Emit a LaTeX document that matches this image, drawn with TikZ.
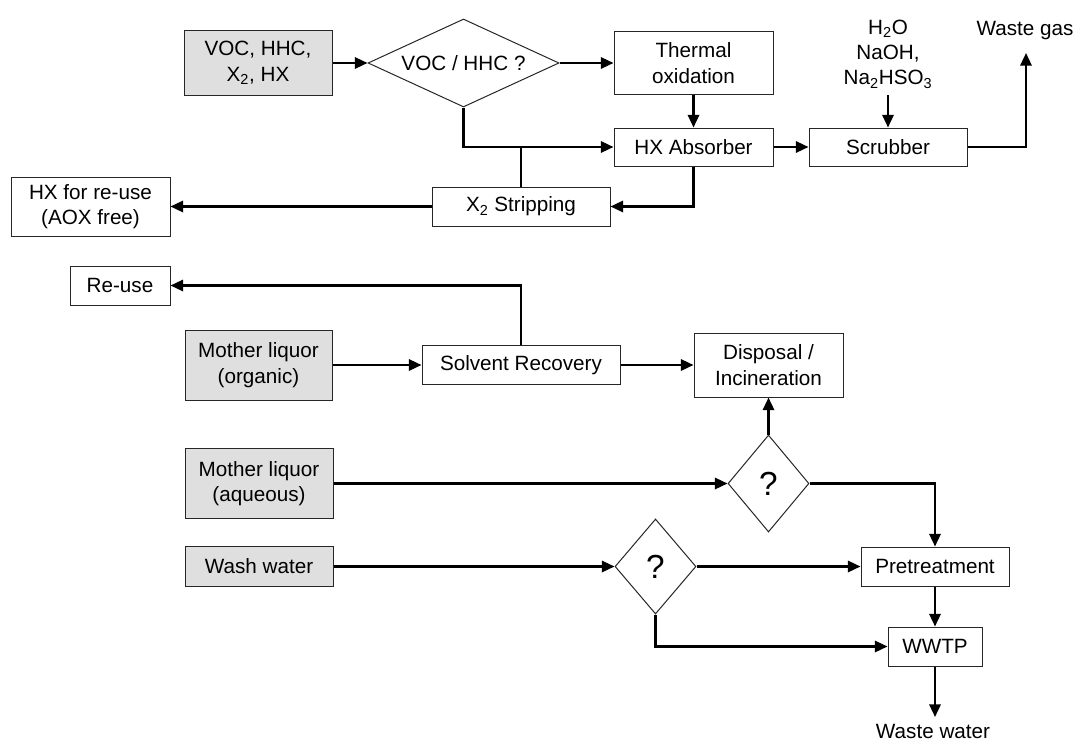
\documentclass[tikz,border=0pt]{standalone}
\usepackage{fontspec}
\setmainfont{Liberation Sans}
\usetikzlibrary{shapes.geometric,arrows.meta}
\begin{document}
\begin{tikzpicture}[x=0.75pt,y=-0.75pt,
  font=\fontsize{15.5}{19}\selectfont,
  sz/.style 2 args={minimum width=#1*0.75pt, minimum height=#2*0.75pt},
  box/.style={draw=black!85, line width=0.75pt, inner sep=0pt, align=center},
  src/.style={box, fill=gray!25},
  dec/.style={draw=black!85, line width=0.75pt, diamond, inner sep=0pt, align=center},
  qmark/.style={font=\fontsize{25}{28}\selectfont},
  conn/.style={line width=1.7pt, -{Triangle[length=9.5pt,width=8.5pt]}},
  plainline/.style={line width=1.7pt},
  lbl/.style={inner sep=0pt, align=center}]
\useasboundingbox (0,0) rectangle (1077,742);

% top section
\node[src, sz={148}{64}] (voc) at (258,63) {VOC, HHC,\\X\textsubscript{2}, HX};
\node[dec, sz={191}{88}, shape aspect=2.17] (d1) at (463.5,63) {VOC / HHC ?};
\node[box, sz={159}{62}] (therm) at (693.5,63) {Thermal\\oxidation};
\node[box, sz={159}{38}] (hxabs) at (693.5,147) {HX Absorber};
\node[box, sz={158}{38}] (scrub) at (888,147) {Scrubber};
\node[lbl] (chem) at (888,54) {H\textsubscript{2}O\\NaOH,\\Na\textsubscript{2}HSO\textsubscript{3}};
\node[lbl] (wgas) at (1025,31) {Waste gas};
\coordinate (wgtip) at (1026,53);
\node[box, sz={178}{39}] (strip) at (521,206.5) {X\textsubscript{2} Stripping};
\node[box, sz={159}{59}] (hxre) at (90.5,206.5) {HX for re-use\\(AOX free)};

% bottom section
\node[box, sz={100}{39}] (reuse) at (120,285.5) {Re-use};
\node[src, sz={147}{70}] (mlorg) at (258.5,365) {Mother liquor\\(organic)};
\node[box, sz={198}{39}] (solv) at (521,365) {Solvent Recovery};
\node[box, sz={149}{64}] (disp) at (768.5,365) {Disposal /\\Incineration};
\node[dec, qmark, sz={81}{97}, shape aspect=0.83] (q1) at (768.5,483.5) {?};
\node[src, sz={148}{70}] (mlaq) at (259,483.5) {Mother liquor\\(aqueous)};
\node[src, sz={148}{40}] (wash) at (259,566.5) {Wash water};
\node[dec, qmark, sz={81}{95}, shape aspect=0.85] (q2) at (655.5,566.5) {?};
\node[box, sz={148}{39}] (pre) at (935,566.5) {Pretreatment};
\node[box, sz={94}{39}] (wwtp) at (935,646.5) {WWTP};
\coordinate (wwtip) at (935,717);
\node[lbl] (wwater) at (933,731) {Waste water};

% connectors top
\draw[conn] (voc.east) -- (d1.west);
\draw[conn] (d1.east) -- (therm.west);
\draw[conn] (d1.south) |- (hxabs.west);
\draw[plainline] (strip.north) -- (strip.north |- hxabs.west);
\draw[conn] (therm.south) -- (hxabs.north);
\draw[conn] (hxabs.east) -- (scrub.west);
\draw[conn] ([yshift=-5pt]chem.south) -- (scrub.north);
\draw[conn] (scrub.east) -| (wgtip);
\draw[conn] (hxabs.south) |- (strip.east);
\draw[conn] (strip.west) -- (hxre.east);

% connectors bottom
\draw[conn] (mlorg.east) -- (solv.west);
\draw[conn] (solv.north) |- (reuse.east);
\draw[conn] (solv.east) -- (disp.west);
\draw[conn] (q1.north) -- (disp.south);
\draw[conn] (mlaq.east) -- (q1.west);
\draw[conn] (q1.east) -| (pre.north);
\draw[conn] (wash.east) -- (q2.west);
\draw[conn] (q2.east) -- (pre.west);
\draw[conn] (pre.south) -- (wwtp.north);
\draw[conn] (q2.south) |- (wwtp.west);
\draw[conn] (wwtp.south) -- (wwtip);
\end{tikzpicture}
\end{document}
